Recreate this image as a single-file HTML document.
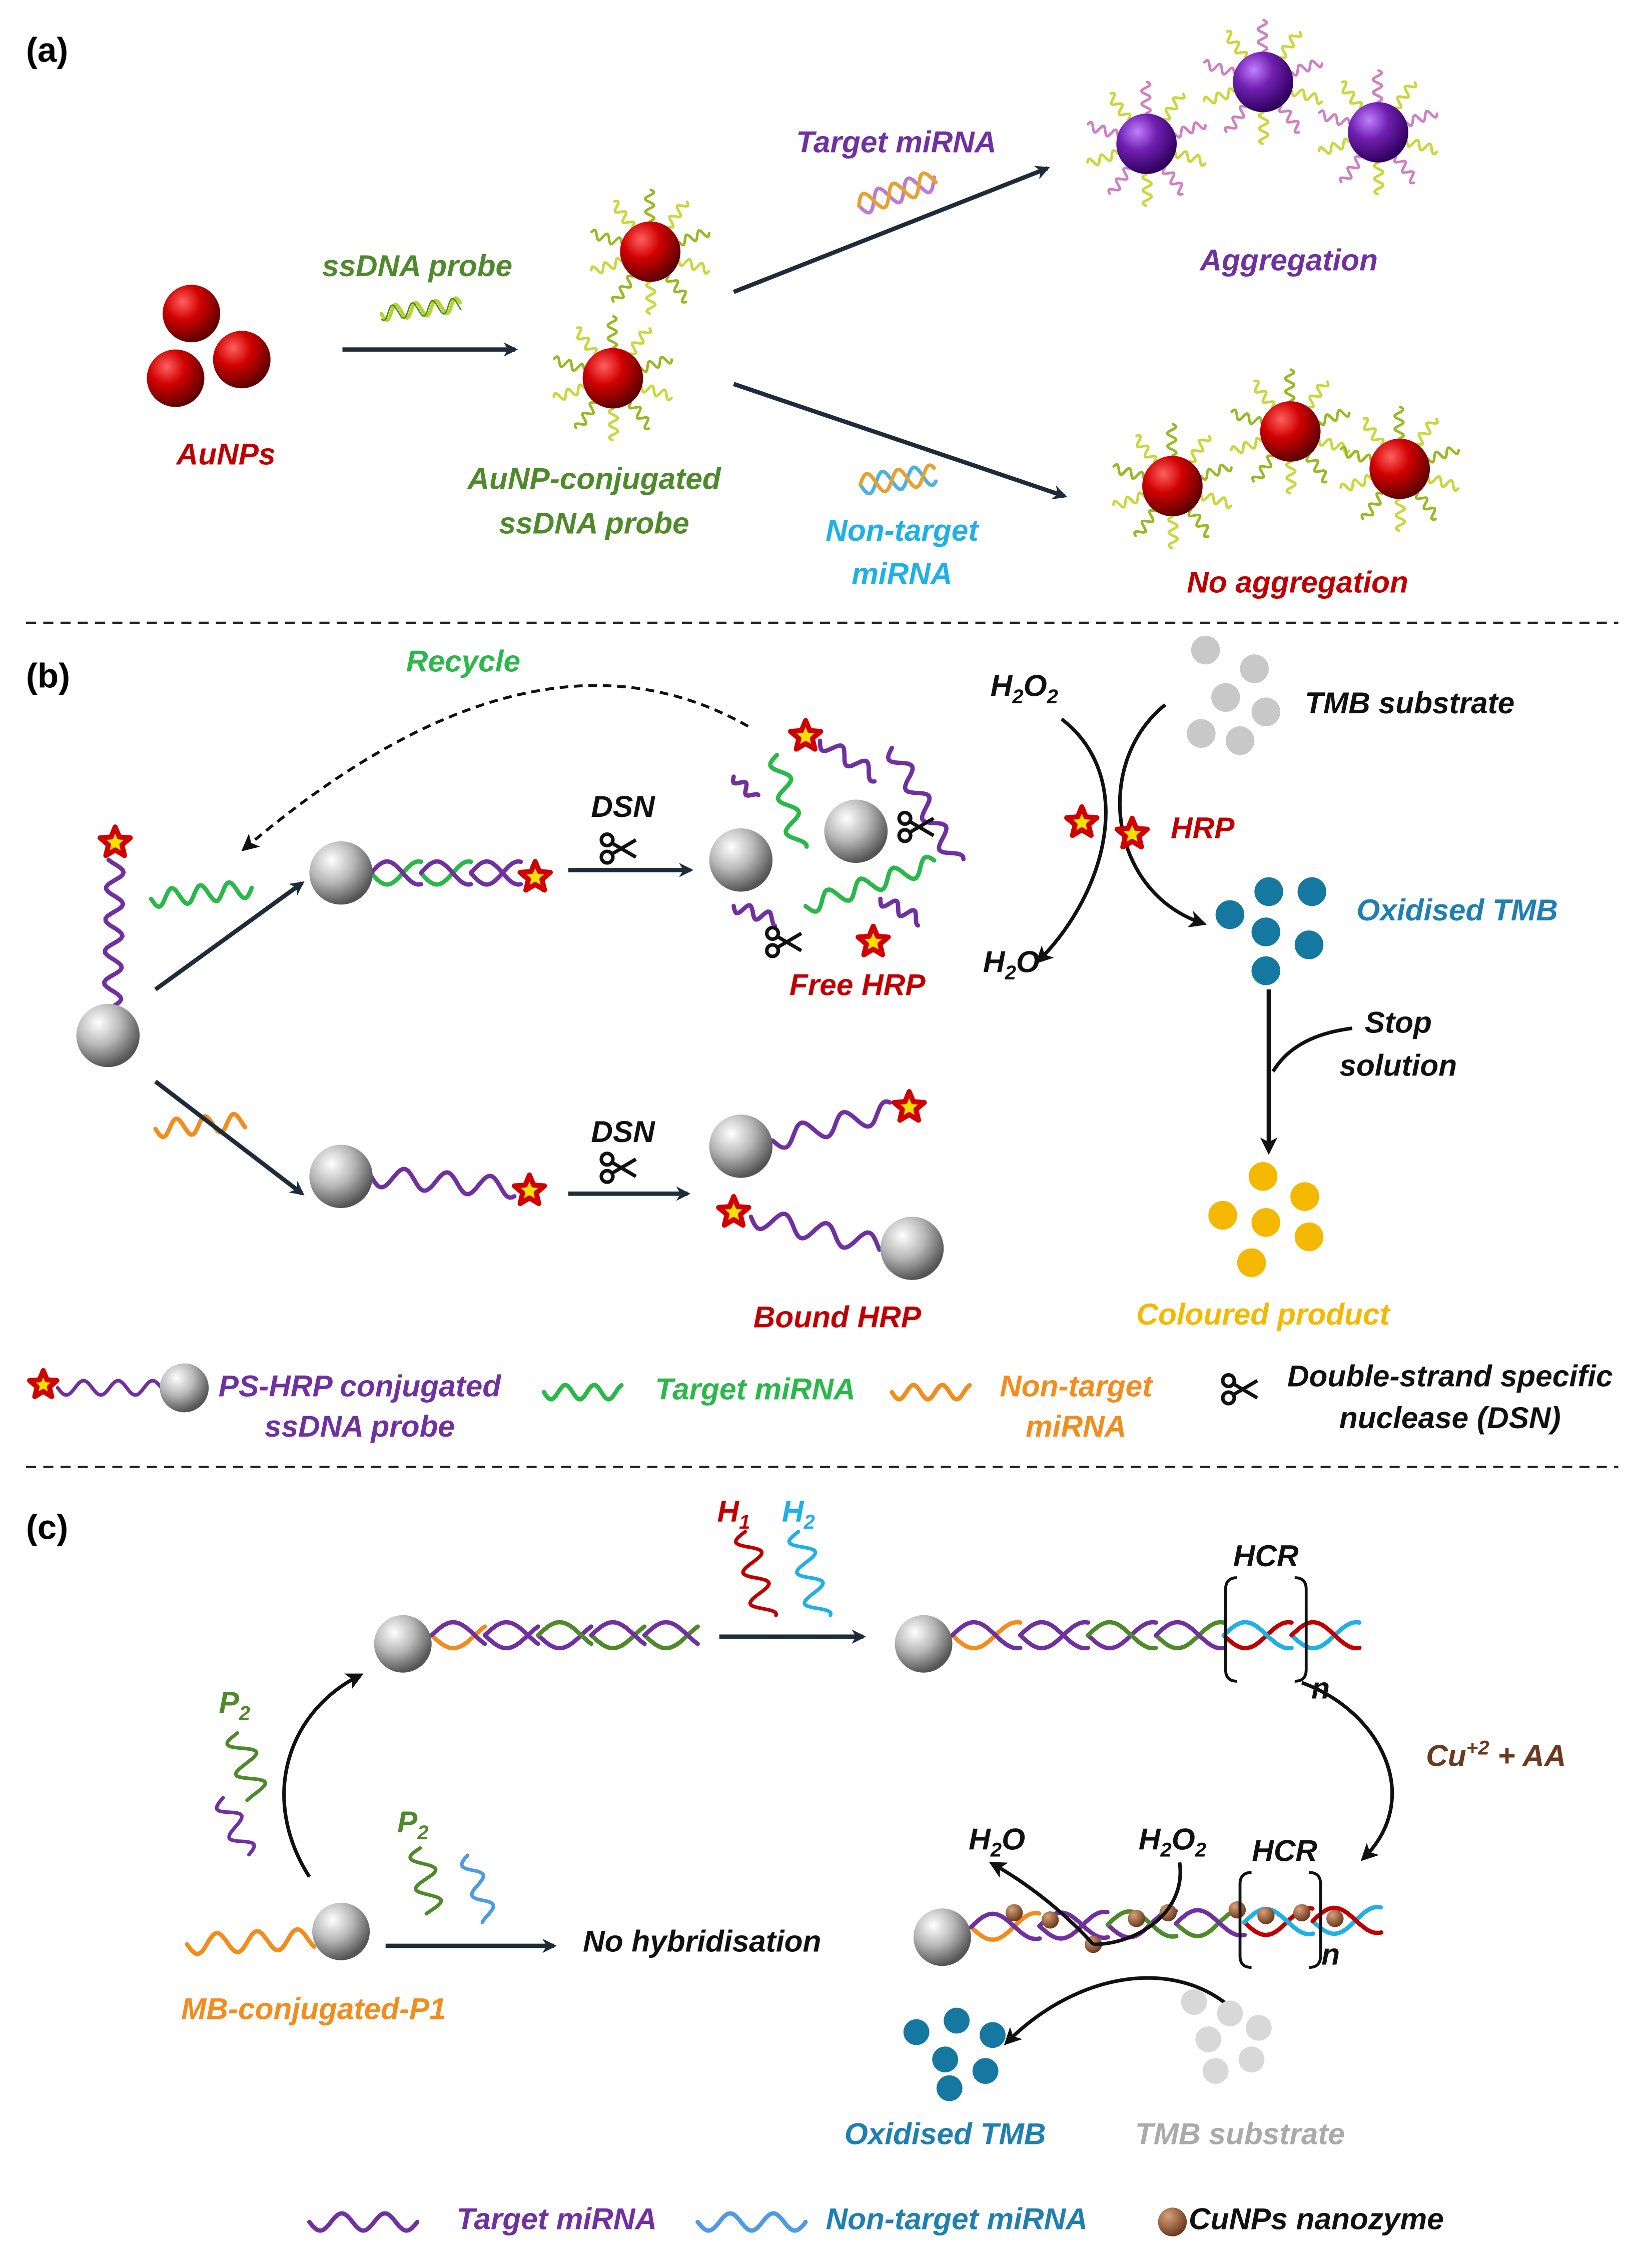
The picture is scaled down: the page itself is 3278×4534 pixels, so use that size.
<!DOCTYPE html>
<html><head><meta charset="utf-8"><style>
html,body{margin:0;padding:0;background:#fff}
svg{display:block}
text{font-family:"Liberation Sans",sans-serif;font-weight:bold;font-style:italic;font-size:21px;text-anchor:middle}
.lab{font-style:normal;font-size:24px;text-anchor:start}
</style></head><body>
<svg id="s" width="3278" height="4534" viewBox="0 0 1140 1577" xmlns="http://www.w3.org/2000/svg">
<defs>
<radialGradient id="gr" cx="35%" cy="30%" r="70%"><stop offset="0" stop-color="#ff6060"/><stop offset=".45" stop-color="#d00000"/><stop offset="1" stop-color="#600000"/></radialGradient>
<radialGradient id="gp" cx="35%" cy="30%" r="70%"><stop offset="0" stop-color="#c080ff"/><stop offset=".45" stop-color="#7020b0"/><stop offset="1" stop-color="#300060"/></radialGradient>
<radialGradient id="gs" cx="35%" cy="30%" r="70%"><stop offset="0" stop-color="#ffffff"/><stop offset=".5" stop-color="#b8b8b8"/><stop offset="1" stop-color="#555"/></radialGradient>
<radialGradient id="gc" cx="35%" cy="30%" r="70%"><stop offset="0" stop-color="#d9a07a"/><stop offset="1" stop-color="#6b3a1e"/></radialGradient>
<marker id="ar" markerWidth="10" markerHeight="10" refX="8" refY="5" orient="auto" markerUnits="userSpaceOnUse"><path d="M0,0 L10,5 L0,10 L3,5z" fill="#1d2b3a"/></marker>
<marker id="ak" markerWidth="12" markerHeight="12" refX="9" refY="6" orient="auto" markerUnits="userSpaceOnUse"><path d="M0,0 L12,6 L0,12 L3,6z" fill="#111"/></marker>
</defs>
<g id="g"></g>
<g>
<text class="lab" x="18" y="43">(a)</text>
<text x="290" y="192" fill="#4f8a2a">ssDNA probe</text>
<text x="157" y="323" fill="#c00000">AuNPs</text>
<text x="413" y="340" fill="#4f8a2a">AuNP-conjugated</text>
<text x="413" y="371" fill="#4f8a2a">ssDNA probe</text>
<text x="623" y="106" fill="#7030a0">Target miRNA</text>
<text x="627" y="376" fill="#1fb0e6">Non-target</text>
<text x="627" y="406" fill="#1fb0e6">miRNA</text>
<text x="896" y="188" fill="#7030a0">Aggregation</text>
<text x="902" y="412" fill="#c00000">No aggregation</text>
<text class="lab" x="18" y="478">(b)</text>
<text x="322" y="467" fill="#2ab84a">Recycle</text>
<text x="433" y="568" fill="#111">DSN</text>
<text x="433" y="794" fill="#111">DSN</text>
<text x="596" y="692" fill="#c00000">Free HRP</text>
<text x="582" y="923" fill="#c00000">Bound HRP</text>
<text x="712" y="484" fill="#111">H<tspan font-size="14" dy="5">2</tspan><tspan dy="-5">O</tspan><tspan font-size="14" dy="5">2</tspan></text>
<text x="980" y="496" fill="#111">TMB substrate</text>
<text x="836" y="583" fill="#c00000">HRP</text>
<text x="1013" y="640" fill="#1f7fb0">Oxidised TMB</text>
<text x="703" y="676" fill="#111">H<tspan font-size="14" dy="5">2</tspan><tspan dy="-5">O</tspan></text>
<text x="972" y="718" fill="#111">Stop</text>
<text x="972" y="748" fill="#111">solution</text>
<text x="878" y="921" fill="#f5b800">Coloured product</text>
<text x="250" y="971" fill="#7030a0">PS-HRP conjugated</text>
<text x="250" y="999" fill="#7030a0">ssDNA probe</text>
<text x="525" y="973" fill="#2ab84a">Target miRNA</text>
<text x="748" y="971" fill="#f28c1c">Non-target</text>
<text x="748" y="999" fill="#f28c1c">miRNA</text>
<text x="1008" y="964" fill="#111">Double-strand specific</text>
<text x="1008" y="993" fill="#111">nuclease (DSN)</text>
<text class="lab" x="18" y="1070">(c)</text>
<text x="510" y="1058" fill="#c00000">H<tspan font-size="14" dy="5">1</tspan></text>
<text x="555" y="1058" fill="#1fb0e6">H<tspan font-size="14" dy="5">2</tspan></text>
<text x="880" y="1089" fill="#111">HCR</text>
<text x="918" y="1181" fill="#111">n</text>
<text x="1040" y="1228" fill="#6b3a1e">Cu<tspan font-size="14" dy="-8">+2</tspan><tspan dy="8"> + AA</tspan></text>
<text x="893" y="1294" fill="#111">HCR</text>
<text x="925" y="1366" fill="#111">n</text>
<text x="693" y="1286" fill="#111">H<tspan font-size="14" dy="5">2</tspan><tspan dy="-5">O</tspan></text>
<text x="815" y="1286" fill="#111">H<tspan font-size="14" dy="5">2</tspan><tspan dy="-5">O</tspan><tspan font-size="14" dy="5">2</tspan></text>
<text x="657" y="1491" fill="#1f7fb0">Oxidised TMB</text>
<text x="862" y="1491" fill="#aaaaaa">TMB substrate</text>
<text x="163" y="1191" fill="#4f8a2a">P<tspan font-size="14" dy="5">2</tspan></text>
<text x="287" y="1274" fill="#4f8a2a">P<tspan font-size="14" dy="5">2</tspan></text>
<text x="488" y="1357" fill="#111">No hybridisation</text>
<text x="218" y="1404" fill="#f28c1c">MB-conjugated-P1</text>
<text x="387" y="1550" fill="#7030a0">Target miRNA</text>
<text x="665" y="1550" fill="#1f7fb0">Non-target miRNA</text>
<text x="915" y="1550" fill="#111">CuNPs nanozyme</text>
</g>
</svg>
<script>
var NS="http://www.w3.org/2000/svg",G=document.getElementById("g");
function el(t,a){var e=document.createElementNS(NS,t);for(var k in a)e.setAttribute(k,a[k]);G.appendChild(e);return e;}
function ball(x,y,r,f){el("circle",{cx:x,cy:y,r:r,fill:"url(#"+f+")"});}
function dot(x,y,r,c){el("circle",{cx:x,cy:y,r:r,fill:c});}
function line(x1,y1,x2,y2,m,w,c){var a={x1:x1,y1:y1,x2:x2,y2:y2,stroke:c||"#1d2b3a","stroke-width":w||3};if(m)a["marker-end"]="url(#"+m+")";el("line",a);}
function wave(x1,y1,x2,y2,amp,per,c,w,ph){var dx=x2-x1,dy=y2-y1,L=Math.hypot(dx,dy),ux=dx/L,uy=dy/L,nx=-uy,ny=ux,d="";ph=ph||0;
for(var i=0;i<=60;i++){var t=i/60*L,o=amp*Math.sin(t/per*2*Math.PI+ph);d+=(i?"L":"M")+(x1+ux*t+nx*o).toFixed(1)+","+(y1+uy*t+ny*o).toFixed(1);}
el("path",{d:d,fill:"none",stroke:c,"stroke-width":w||3,"stroke-linecap":"round"});}
function helix(x1,y1,x2,y2,amp,per,cols,cols2){var n=cols.length,dx=(x2-x1)/n,dy=(y2-y1)/n;for(var i=0;i<n;i++){wave(x1+dx*i,y1+dy*i,x1+dx*(i+1),y1+dy*(i+1),amp,per,cols[i],3,0);wave(x1+dx*i,y1+dy*i,x1+dx*(i+1),y1+dy*(i+1),amp,per,(cols2||cols)[i],3,Math.PI);}}
function star(x,y,r){var d="";for(var i=0;i<10;i++){var a=-Math.PI/2+i*Math.PI/5,rr=i%2?r*0.45:r;d+=(i?"L":"M")+(x+rr*Math.cos(a)).toFixed(1)+","+(y+rr*Math.sin(a)).toFixed(1);}el("path",{d:d+"z",fill:"#ffe000",stroke:"#d00000","stroke-width":3.5,"stroke-linejoin":"round"});}
function scis(x,y){el("circle",{cx:x-8,cy:y-6,r:4,fill:"none",stroke:"#111","stroke-width":2.5});el("circle",{cx:x-8,cy:y+6,r:4,fill:"none",stroke:"#111","stroke-width":2.5});line(x-5,y-4,x+12,y+6,0,2.5,"#111");line(x-5,y+4,x+12,y-6,0,2.5,"#111");}
function fuzzy(x,y,r,f,cols){for(var k=0;k<10;k++){var a=k/10*2*Math.PI+0.3;wave(x+r*Math.cos(a),y+r*Math.sin(a),x+(r+22)*Math.cos(a),y+(r+22)*Math.sin(a),3,9,cols[k%cols.length],1.8);}ball(x,y,r,f);}
ball(133,218,20,"gr");ball(122,263,20,"gr");ball(168,250,20,"gr");
line(238,243,358,243,"ar",3);wave(265,218,320,212,5,14,"#b8d430",2.5);wave(265,218,320,212,5,14,"#4f8a2a",1,1);
fuzzy(452,175,21,"gr",["#c8d838","#9ab820"]);fuzzy(426,263,21,"gr",["#c8d838","#9ab820"]);
line(510,203,728,117,"ar",3);line(510,267,740,345,"ar",3);
wave(597,143,650,125,7,22,"#c07ad0",2.5);wave(597,143,650,125,7,22,"#e8a030",2.5,Math.PI);
wave(598,337,650,330,7,22,"#4fb0e0",2.5);wave(598,337,650,330,7,22,"#e8a030",2.5,Math.PI);
fuzzy(797,100,21,"gp",["#c8d838","#d080c0"]);fuzzy(878,57,21,"gp",["#c8d838","#d080c0"]);fuzzy(958,92,21,"gp",["#c8d838","#d080c0"]);
fuzzy(815,338,21,"gr",["#c8d838","#9ab820"]);fuzzy(897,300,21,"gr",["#c8d838","#9ab820"]);fuzzy(973,326,21,"gr",["#c8d838","#9ab820"]);
el("line",{x1:18,y1:433,x2:1125,y2:433,stroke:"#222","stroke-width":1.5,"stroke-dasharray":"7,5"});
el("line",{x1:18,y1:1020,x2:1125,y2:1020,stroke:"#222","stroke-width":1.5,"stroke-dasharray":"7,5"});
el("path",{d:"M520,505 Q370,420 170,590",fill:"none",stroke:"#111","stroke-width":2,"stroke-dasharray":"6,4","marker-end":"url(#ak)"});
wave(78,700,80,598,6,22,"#7030a0",3);star(80,586,11);ball(75,720,22,"gs");
wave(105,625,175,618,6,20,"#2ab84a",3);wave(108,785,170,780,6,20,"#f28c1c",3);
line(108,688,210,614,"ar",3);line(108,752,210,830,"ar",3);
helix(258,607,362,607,8,44,["#2ab84a","#2ab84a","#7030a0"],["#7030a0","#7030a0","#7030a0"]);star(372,610,11);ball(237,607,22,"gs");
scis(430,590);line(395,605,480,605,"ar",3);
wave(258,818,358,826,7,30,"#7030a0",3);star(368,828,11);ball(237,818,22,"gs");
scis(430,812);line(395,830,478,830,"ar",3);
wave(537,793,620,772,7,30,"#7030a0",3);star(632,770,11);ball(515,797,22,"gs");
wave(522,846,612,866,7,30,"#7030a0",3);star(510,843,11);ball(634,868,22,"gs");
wave(540,525,555,590,6,24,"#2ab84a",3);wave(510,540,525,555,3,12,"#7030a0",3);wave(570,515,610,540,5,20,"#7030a0",3);
wave(620,520,665,600,6,24,"#7030a0",3);wave(560,630,650,600,6,24,"#2ab84a",3);wave(510,630,540,640,4,14,"#7030a0",3);
wave(612,625,640,640,4,14,"#7030a0",3);star(560,512,11);star(607,655,11);
ball(515,598,22,"gs");ball(595,578,22,"gs");scis(637,575);scis(545,655);
el("path",{d:"M738,500 C790,540 770,620 722,668",fill:"none",stroke:"#111","stroke-width":2.5,"marker-end":"url(#ak)"});
el("path",{d:"M810,490 C760,530 770,620 836,642",fill:"none",stroke:"#111","stroke-width":2.5,"marker-end":"url(#ak)"});
star(752,572,11);star(787,580,11);
[[838,452],[872,465],[852,485],[835,510],[880,495],[862,515]].forEach(function(p){dot(p[0],p[1],10,"#c8c8c8");});
[[855,636],[882,620],[912,620],[880,648],[910,657],[880,675]].forEach(function(p){dot(p[0],p[1],10,"#1578a0");});
line(882,688,882,800,"ak",3,"#111");el("path",{d:"M940,715 Q900,720 885,745",fill:"none",stroke:"#111","stroke-width":2.5});
[[878,818],[907,832],[850,845],[880,850],[910,860],[870,878]].forEach(function(p){dot(p[0],p[1],10,"#f5b800");});
star(30,963,10);wave(40,965,115,965,5,24,"#7030a0",2.5);ball(128,965,17,"gs");
wave(378,968,432,968,5,20,"#2ab84a",3);wave(620,968,674,968,5,20,"#f28c1c",3);scis(862,966);
helix(300,1137,485,1137,9,60,["#f28c1c","#7030a0","#7030a0","#4f8a2a","#4f8a2a"],["#7030a0","#7030a0","#4f8a2a","#7030a0","#7030a0"]);ball(280,1143,20,"gs");
wave(518,1065,532,1125,8,22,"#c00000",2.5);wave(555,1065,570,1125,8,22,"#1fb0e6",2.5);
line(500,1138,600,1138,"ar",3);
helix(662,1137,945,1137,9,60,["#f28c1c","#7030a0","#7030a0","#4f8a2a","#c00000","#1fb0e6"],["#7030a0","#7030a0","#4f8a2a","#7030a0","#1fb0e6","#c00000"]);ball(642,1143,20,"gs");
el("path",{d:"M860,1097 q-8,0 -8,8 v56 q0,8 8,8 M900,1097 q8,0 8,8 v56 q0,8 -8,8",fill:"none",stroke:"#111","stroke-width":2});
el("path",{d:"M905,1170 C960,1190 990,1250 948,1292",fill:"none",stroke:"#111","stroke-width":2.5,"marker-end":"url(#ak)"});
helix(675,1340,960,1335,9,60,["#f28c1c","#7030a0","#7030a0","#4f8a2a","#c00000","#1fb0e6"],["#7030a0","#7030a0","#4f8a2a","#7030a0","#1fb0e6","#c00000"]);ball(655,1347,20,"gs");
[[705,1330],[730,1335],[760,1352],[790,1334],[812,1330],[860,1328],[880,1332],[905,1330],[928,1334]].forEach(function(p){el("circle",{cx:p[0],cy:p[1],r:6,fill:"url(#gc)"});});
el("path",{d:"M870,1302 q-8,0 -8,8 v50 q0,8 8,8 M910,1302 q8,0 8,8 v50 q0,8 -8,8",fill:"none",stroke:"#111","stroke-width":2});
el("path",{d:"M760,1352 C740,1330 715,1310 690,1296",fill:"none",stroke:"#111","stroke-width":2.5,"marker-end":"url(#ak)"});
el("path",{d:"M820,1295 C825,1330 790,1352 760,1352",fill:"none",stroke:"#111","stroke-width":2.5});
el("path",{d:"M860,1400 C820,1360 750,1370 700,1420",fill:"none",stroke:"#111","stroke-width":2.5,"marker-end":"url(#ak)"});
[[637,1413],[665,1405],[690,1415],[657,1432],[685,1440],[660,1452]].forEach(function(p){dot(p[0],p[1],9,"#1578a0");});
[[830,1392],[855,1400],[875,1410],[840,1418],[870,1432],[845,1440]].forEach(function(p){dot(p[0],p[1],9,"#d8d8d8");});
wave(165,1205,178,1250,9,22,"#4f8a2a",2.5);wave(155,1250,172,1290,7,22,"#7030a0",2.5);
el("path",{d:"M215,1305 C180,1250 200,1190 250,1165",fill:"none",stroke:"#111","stroke-width":2.5,"marker-end":"url(#ak)"});
wave(292,1285,300,1330,8,22,"#4f8a2a",2.5);wave(325,1290,340,1335,6,22,"#4f9ae0",2.5);
wave(130,1352,218,1348,7,28,"#f28c1c",3);ball(237,1343,20,"gs");
line(268,1353,385,1353,"ar",3);
wave(215,1545,290,1545,6,30,"#7030a0",3);wave(485,1545,560,1545,6,30,"#4f9ae0",3);
el("circle",{cx:815,cy:1545,r:10,fill:"url(#gc)"});
</script>
</body></html>
